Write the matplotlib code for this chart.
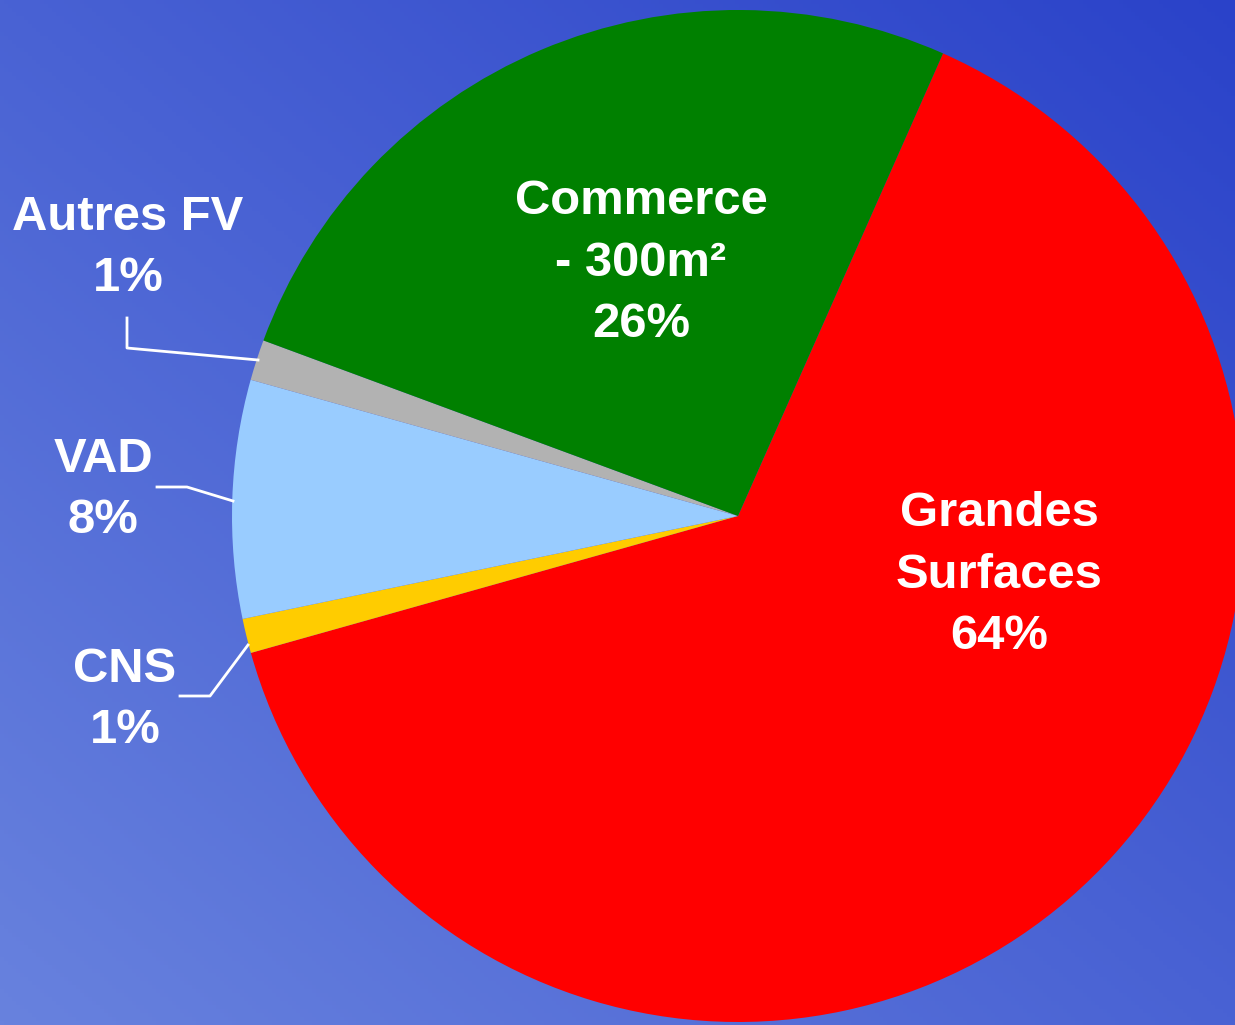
import numpy as np
import matplotlib
matplotlib.use("Agg")
import matplotlib.pyplot as plt
from matplotlib.colors import to_rgb

labels = ["Grandes\nSurfaces", "CNS", "VAD", "Autres FV", "Commerce\n- 300m²"]
values = [64.0, 1.1, 7.6, 1.3, 26.0]
colors = ["#ff0000", "#ffcc00", "#99ccff", "#b2b2b2", "#008000"]

W, H = 1235, 1025
fig = plt.figure(figsize=(W / 100, H / 100), dpi=100)
ax = fig.add_axes([0, 0, 1, 1])
ax.set_xlim(0, W)
ax.set_ylim(0, H)
ax.set_aspect("equal")
ax.axis("off")

# background gradient: light bottom-left -> dark top-right
c0 = np.array(to_rgb("#6882de"))
c1 = np.array(to_rgb("#2a42c9"))
yy, xx = np.mgrid[0:H:4, 0:W:4]
t = (xx / W + yy / H) / 2.0
img = c0[None, None, :] * (1 - t[..., None]) + c1[None, None, :] * t[..., None]
ax.imshow(img, extent=[0, W, 0, H], origin="lower", zorder=0, aspect="auto")

cx, cy, r = 738, H - 516, 506
wedges, _ = ax.pie(values, colors=colors, startangle=66.1, counterclock=False,
                   center=(cx, cy), radius=r, frame=True,
                   wedgeprops=dict(linewidth=0))
for w in wedges:
    w.set_zorder(2)
ax.set_xlim(0, W)
ax.set_ylim(0, H)
ax.axis("off")

total = sum(values)
pct = [f"{round(v / total * 100)}%" for v in values]

font = dict(family="Liberation Sans", fontweight="bold", color="white",
            fontsize=35.3, ha="center", va="center", linespacing=1.48, zorder=5)

# label positions (pixel coords, y from top)
pos = {0: (999, 575), 1: (125, 700), 2: (103, 490), 3: (128, 248), 4: (641, 263)}
for i, (x, y) in pos.items():
    ax.text(x, H - y, f"{labels[i]}\n{pct[i]}", **font)

# leader lines
lw = 2
ax.plot([127, 127, 258], [H - 318, H - 348, H - 360], color="white", lw=lw, zorder=4)
ax.plot([157, 187, 233], [H - 487, H - 487, H - 501], color="white", lw=lw, zorder=4)
ax.plot([180, 210, 248], [H - 696, H - 696, H - 645], color="white", lw=lw, zorder=4)

fig.savefig("out.png", dpi=100)
